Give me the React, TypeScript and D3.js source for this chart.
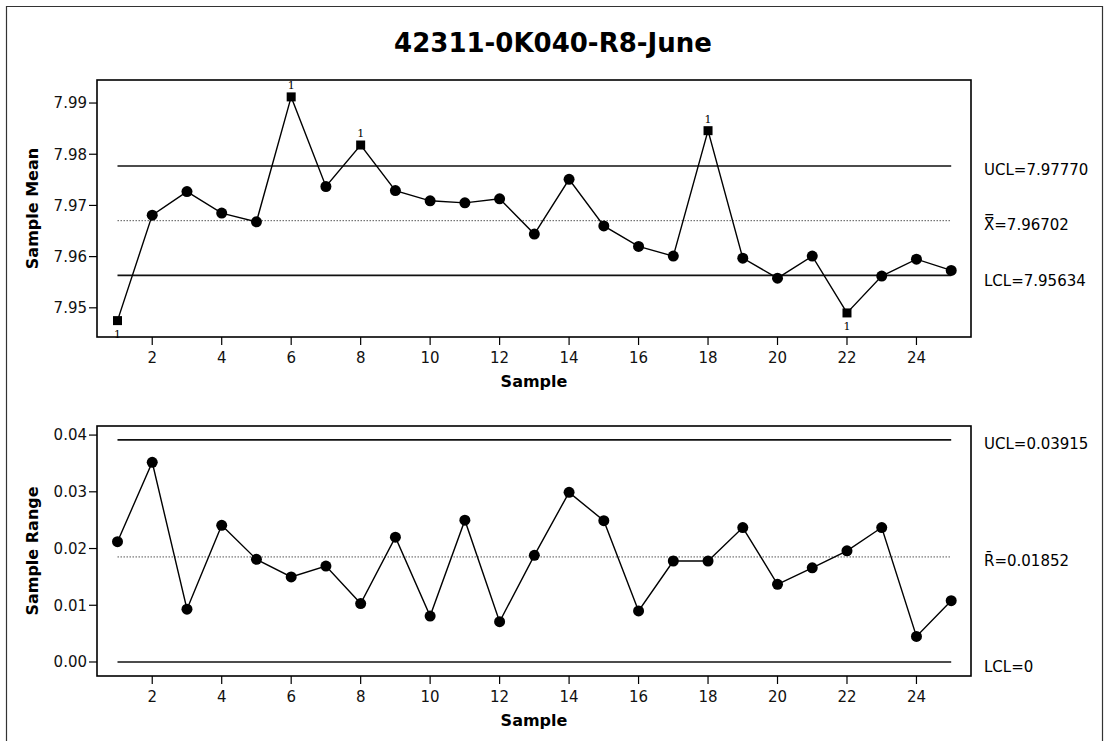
import React from 'react';
import * as d3 from 'd3';

// 관리도 데이터
const samples = d3.range(1, 26);
const sampleMeans = [
  7.9475, 7.9681, 7.9727, 7.9685, 7.9668, 7.9912, 7.9737, 7.9818, 7.9729, 7.9709,
  7.9705, 7.9713, 7.9644, 7.9751, 7.966, 7.962, 7.9601, 7.9846, 7.9597, 7.9558,
  7.9601, 7.949, 7.9562, 7.9595, 7.9573,
];
const sampleRanges = [
  0.0212, 0.0352, 0.0093, 0.0241, 0.0181, 0.015, 0.0169, 0.0103, 0.022, 0.0081,
  0.025, 0.0071, 0.0188, 0.0299, 0.0249, 0.009, 0.0178, 0.0178, 0.0237, 0.0137,
  0.0166, 0.0196, 0.0237, 0.0045, 0.0108,
];
// 관리 한계를 벗어난 점 (테스트 1)
const meanFlags = [1, 6, 8, 18, 22];
const meanTicks = [7.95, 7.96, 7.97, 7.98, 7.99];
const rangeTicks = [0.0, 0.01, 0.02, 0.03, 0.04];
const xTicks = d3.range(2, 26, 2);

const meanLimits = { ucl: 7.9777, center: 7.96702, lcl: 7.95634 };
const rangeLimits = { ucl: 0.03915, center: 0.01852, lcl: 0 };

const TITLE = '42311-0K040-R8-June';
const FONT = '"DejaVu Sans", Verdana, sans-serif';

const plotLeft = 97;
const plotRight = 971;

const x = d3.scaleLinear().domain([0.41, 25.57]).range([plotLeft, plotRight]);

interface PanelProps {
  top: number;
  bottom: number;
  domain: [number, number];
  values: number[];
  ticks: number[];
  tickFmt: (v: number) => string;
  limits: { ucl: number; center: number; lcl: number };
  labels: [string, string, string];
  yTitle: string;
  flags: number[];
}

const Panel: React.FC<PanelProps> = ({ top, bottom, domain, values, ticks, tickFmt, limits, labels, yTitle, flags }) => {
  const y = d3.scaleLinear().domain(domain).range([bottom, top]);
  const line = d3.line<number>()
    .x((_, i) => x(samples[i]))
    .y(d => y(d));
  const x0 = x(1);
  const x1 = x(25);
  const midY = (top + bottom) / 2;

  return (
    <g fontFamily={FONT}>
      {/* 관리선 */}
      <line x1={x0} x2={x1} y1={y(limits.ucl)} y2={y(limits.ucl)} stroke="#111" strokeWidth={1.6} />
      <line x1={x0} x2={x1} y1={y(limits.center)} y2={y(limits.center)} stroke="#555" strokeWidth={1} strokeDasharray="1.5,1.5" />
      <line x1={x0} x2={x1} y1={y(limits.lcl)} y2={y(limits.lcl)} stroke="#111" strokeWidth={1.6} />

      <path d={line(values) || ''} fill="none" stroke="#000" strokeWidth={1.4} />
      {values.map((v, i) => {
        const s = samples[i];
        const cx = x(s);
        const cy = y(v);
        if (flags.includes(s)) {
          const below = v < limits.lcl;
          return (
            <g key={s}>
              <rect x={cx - 4.5} y={cy - 4.5} width={9} height={9} fill="#000" />
              <text x={cx} y={below ? cy + 17 : cy - 8} fontSize={11} textAnchor="middle" fontFamily='"DejaVu Serif", serif'>1</text>
            </g>
          );
        }
        return <circle key={s} cx={cx} cy={cy} r={5.5} fill="#000" />;
      })}

      {/* 프레임 */}
      <rect x={plotLeft} y={top} width={plotRight - plotLeft} height={bottom - top} fill="none" stroke="#000" strokeWidth={1.6} />

      {/* Y축 */}
      {ticks.map(t => (
        <g key={t}>
          <line x1={plotLeft - 8} x2={plotLeft} y1={y(t)} y2={y(t)} stroke="#000" strokeWidth={1.2} />
          <text x={plotLeft - 10} y={y(t)} dy="0.36em" fontSize={15} textAnchor="end" fill="#111">{tickFmt(t)}</text>
        </g>
      ))}
      <text transform={`translate(32,${midY}) rotate(-90)`} textAnchor="middle" fontSize={16} fontWeight="bold" dy="0.35em">{yTitle}</text>

      {/* X축 */}
      {xTicks.map(t => (
        <g key={t}>
          <line x1={x(t)} x2={x(t)} y1={bottom} y2={bottom + 8} stroke="#000" strokeWidth={1.2} />
          <text x={x(t)} y={bottom + 21} dy="0.35em" fontSize={15} textAnchor="middle" fill="#111">{t}</text>
        </g>
      ))}
      <text x={(plotLeft + plotRight) / 2} y={bottom + 44} dy="0.35em" fontSize={16} fontWeight="bold" textAnchor="middle">Sample</text>

      {/* 우측 한계 라벨 */}
      <text x={984} y={y(limits.ucl) + 4} dy="0.35em" fontSize={15}>{labels[0]}</text>
      <text x={984} y={y(limits.center) + 4} dy="0.35em" fontSize={15}>{labels[1]}</text>
      <text x={984} y={y(limits.lcl) + 5} dy="0.35em" fontSize={15}>{labels[2]}</text>
    </g>
  );
};

const App: React.FC = () => {
  return (
    <div style={{ position: 'absolute', left: 0, top: 0 }}>
      <svg width={1111} height={742} style={{ display: 'block', background: '#fff' }}>
        <rect x={0} y={0} width={1111} height={742} fill="#fff" />
        <path d="M6.5,741 L6.5,6.5 L1102.5,6.5 L1102.5,741" fill="none" stroke="#333" strokeWidth={1.2} />
        <text x={553} y={52} fontSize={26} fontWeight="bold" textAnchor="middle" fontFamily={FONT}>{TITLE}</text>

        <Panel
          top={80}
          bottom={337}
          domain={[7.9443, 7.9945]}
          values={sampleMeans}
          ticks={meanTicks}
          tickFmt={d3.format('.2f')}
          limits={meanLimits}
          labels={['UCL=7.97770', 'X\u033F=7.96702', 'LCL=7.95634']}
          yTitle="Sample Mean"
          flags={meanFlags}
        />
        <Panel
          top={426}
          bottom={676}
          domain={[-0.00247, 0.0416]}
          values={sampleRanges}
          ticks={rangeTicks}
          tickFmt={d3.format('.2f')}
          limits={rangeLimits}
          labels={['UCL=0.03915', 'R\u0304=0.01852', 'LCL=0']}
          yTitle="Sample Range"
          flags={[]}
        />
      </svg>
    </div>
  );
};

export default App;
